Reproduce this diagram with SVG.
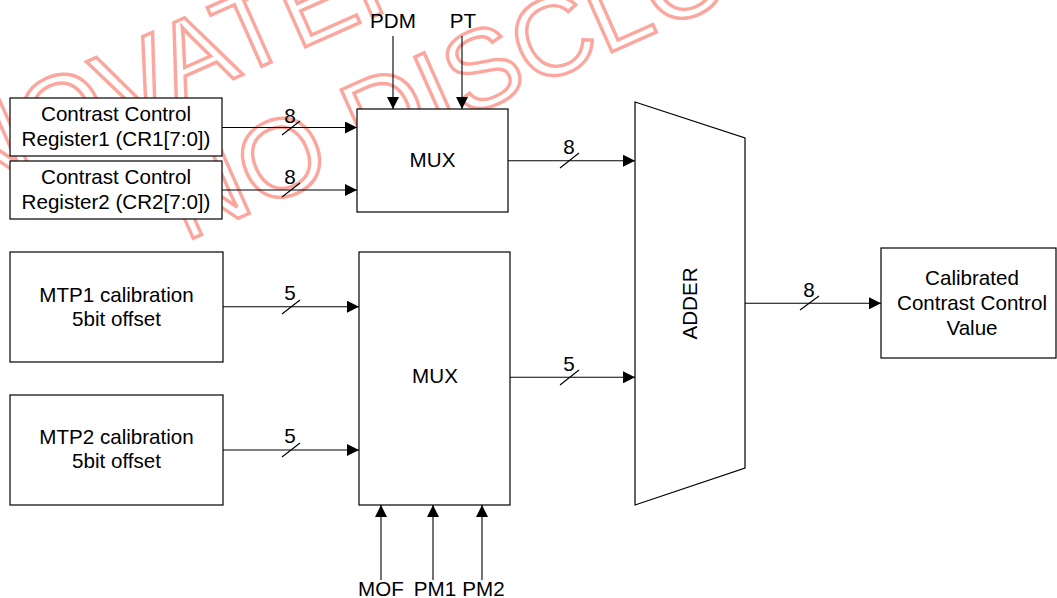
<svg xmlns="http://www.w3.org/2000/svg" width="1057" height="598" viewBox="0 0 1057 598">
<defs>
<marker id="arr" markerUnits="userSpaceOnUse" markerWidth="12" markerHeight="12" refX="12" refY="6" orient="auto" viewBox="0 0 12 12">
<path d="M0,0 L12,6 L0,12 z" fill="#000"/>
</marker>
<style>
.box{fill:#fff;stroke:#000;stroke-width:1.2}
.t{font-family:"Liberation Sans",Arial,sans-serif;font-size:20.6px;fill:#000;text-anchor:middle}
.c{fill:none;stroke:#000;stroke-width:1.1}
.a{marker-end:url(#arr)}
.wm{font-family:"Liberation Sans",Arial,sans-serif;font-size:110px;fill:none;stroke:#fba79d;stroke-width:3.4}
</style>
</defs>
<rect width="1057" height="598" fill="#fff"/>
<g id="watermark">
<text class="wm" transform="translate(-34,198) rotate(-24)">NOVATEK</text>
<text class="wm" transform="translate(185,242) rotate(-24)">NO DISCLOSURE</text>
</g>
<g id="connectors">
<path class="c a" d="M222,127.5 H357"/>
<path class="c a" d="M222,190 H357"/>
<path class="c a" d="M393,36 V109"/>
<path class="c a" d="M462,36 V109"/>
<path class="c a" d="M508,160.7 H635"/>
<path class="c a" d="M223,306.7 H359"/>
<path class="c a" d="M223,450 H359"/>
<path class="c a" d="M510,377.3 H635"/>
<path class="c a" d="M381,580 V505"/>
<path class="c a" d="M433,580 V505"/>
<path class="c a" d="M482,580 V505"/>
<path class="c a" d="M745,303.3 H881"/>
<path class="c" d="M282,135 L300,121 M282,197 L300,183 M560,168 L579,153 M282,314 L300,300 M282,457 L300,443 M560,385 L579,370 M800,310 L819,296"/>
<text class="t" x="290" y="123">8</text>
<text class="t" x="290" y="184">8</text>
<text class="t" x="569" y="154">8</text>
<text class="t" x="290" y="300">5</text>
<text class="t" x="290" y="443">5</text>
<text class="t" x="569" y="371">5</text>
<text class="t" x="809" y="297">8</text>
<text class="t" x="393" y="28">PDM</text>
<text class="t" x="463" y="28">PT</text>
<text class="t" x="381" y="596">MOF</text>
<text class="t" x="435" y="596">PM1</text>
<text class="t" x="483.5" y="596">PM2</text>
</g>
<g id="cr1">
<rect class="box" x="10" y="98" width="212" height="58"/>
<text class="t" x="116" y="120.5">Contrast Control</text>
<text class="t" x="116" y="145.5">Register1 (CR1[7:0])</text>
</g>
<g id="cr2">
<rect class="box" x="10" y="161" width="212" height="58"/>
<text class="t" x="116" y="183.5">Contrast Control</text>
<text class="t" x="116" y="208.5">Register2 (CR2[7:0])</text>
</g>
<g id="mux1">
<rect class="box" x="357" y="109" width="151" height="103"/>
<text class="t" x="432.5" y="167">MUX</text>
</g>
<g id="mtp1">
<rect class="box" x="10" y="252" width="213" height="110"/>
<text class="t" x="116.5" y="301.5">MTP1 calibration</text>
<text class="t" x="116.5" y="326">5bit offset</text>
</g>
<g id="mtp2">
<rect class="box" x="10" y="395" width="213" height="110"/>
<text class="t" x="116.5" y="443.5">MTP2 calibration</text>
<text class="t" x="116.5" y="468">5bit offset</text>
</g>
<g id="mux2">
<rect class="box" x="359" y="252" width="151" height="253"/>
<text class="t" x="435" y="383.3">MUX</text>
</g>
<g id="adder">
<polygon class="box" points="635,102 745,138 745,468 635,505"/>
<text class="t" transform="translate(697,303.5) rotate(-90)">ADDER</text>
</g>
<g id="calibrated">
<rect class="box" x="881" y="248" width="175" height="110"/>
<text class="t" x="972" y="285">Calibrated</text>
<text class="t" x="972" y="310">Contrast Control</text>
<text class="t" x="972" y="335">Value</text>
</g>
</svg>
